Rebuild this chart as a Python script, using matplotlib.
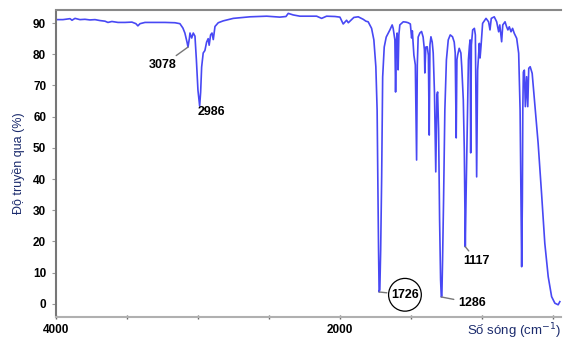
import matplotlib
matplotlib.use("Agg")
import matplotlib.pyplot as plt

plt.rcParams['font.family'] = ['Liberation Sans', 'DejaVu Sans']

# IR spectrum (wavenumber in cm-1, transmittance in %)
wavenumber = [4000, 3951, 3901, 3887, 3866, 3831, 3796, 3761, 3725, 3690,
              3655, 3634, 3606, 3563, 3514, 3465, 3437, 3423, 3408, 3373,
              3303, 3232, 3162, 3127, 3106, 3092, 3077, 3070, 3060, 3056,
              3044, 3033, 3021, 3011, 3000, 2988, 2981, 2974, 2963, 2951,
              2939, 2928, 2921, 2911, 2901, 2892, 2880, 2857, 2822, 2751,
              2634, 2516, 2423, 2380, 2364, 2329, 2282, 2211, 2164, 2129,
              2094, 2035, 2000, 1977, 1953, 1941, 1923, 1902, 1871, 1836,
              1817, 1801, 1777, 1761, 1747, 1738, 1733, 1728, 1724, 1719,
              1713, 1706, 1699, 1688, 1674, 1648, 1632, 1625, 1613, 1608,
              1602, 1597, 1590, 1585, 1578, 1554, 1535, 1519, 1504, 1495,
              1490, 1479, 1469, 1460, 1455, 1449, 1437, 1425, 1414, 1405,
              1402, 1395, 1385, 1377, 1371, 1366, 1359, 1350, 1343, 1334,
              1325, 1317, 1312, 1305, 1298, 1291, 1286, 1282, 1277, 1270,
              1261, 1250, 1237, 1223, 1207, 1195, 1188, 1181, 1176, 1171,
              1160, 1148, 1142, 1131, 1124, 1117, 1112, 1105, 1095, 1088,
              1083, 1079, 1074, 1065, 1053, 1046, 1037, 1030, 1018, 1013,
              1006, 995, 971, 953, 943, 934, 913, 896, 882, 874,
              861, 853, 837, 826, 817, 807, 795, 784, 772, 755,
              741, 731, 724, 720, 715, 712, 708, 701, 694, 685,
              677, 670, 660, 646, 630, 604, 580, 557, 533, 509,
              486, 463, 451]
transmittance = [91.1, 91.1, 91.4, 90.9, 91.5, 91.1, 91.2, 91.0, 91.1, 90.8,
                 90.6, 90.2, 90.5, 90.2, 90.2, 90.3, 89.8, 89.1, 89.8, 90.2,
                 90.2, 90.2, 90.1, 89.8, 88.4, 86.8, 83.9, 82.3, 85.2, 86.8,
                 85.2, 86.8, 85.8, 78.2, 68.5, 63.4, 67.9, 75.9, 80.4, 81.2,
                 83.9, 85.0, 82.9, 86.2, 86.8, 84.7, 88.9, 90.1, 90.7, 91.5,
                 92.0, 92.2, 91.9, 92.1, 93.1, 92.6, 92.2, 92.2, 92.2, 91.5,
                 92.2, 92.1, 91.9, 89.7, 90.9, 90.1, 90.9, 91.8, 92.0, 91.2,
                 90.6, 90.4, 88.3, 84.6, 76.0, 62.1, 39.7, 17.3, 3.8, 4.5,
                 17.3, 40.7, 72.7, 82.3, 85.5, 87.8, 89.4, 88.3, 84.6, 67.9,
                 84.6, 86.8, 75.0, 86.2, 89.4, 90.4, 90.3, 90.1, 89.7, 85.2,
                 87.5, 79.7, 76.6, 46.1, 76.6, 85.5, 86.8, 87.3, 85.5, 81.4,
                 74.0, 82.3, 82.4, 79.7, 54.1, 83.0, 85.6, 83.9, 80.4, 67.6,
                 42.3, 66.9, 67.9, 55.7, 26.9, 7.7, 2.2, 2.5, 14.1, 33.3,
                 62.1, 78.2, 84.6, 86.2, 85.6, 83.9, 80.4, 53.2, 78.2, 79.7,
                 81.9, 80.4, 76.0, 65.3, 49.3, 18.3, 33.3, 51.6, 78.2, 82.6,
                 84.6, 48.4, 83.0, 87.8, 88.3, 86.2, 40.7, 74.9, 83.5, 78.8,
                 82.7, 89.9, 91.5, 90.4, 87.8, 91.5, 92.0, 90.4, 87.2, 89.4,
                 84.0, 89.4, 90.4, 88.8, 87.8, 88.8, 87.2, 88.3, 86.7, 85.1,
                 80.3, 62.1, 30.1, 11.9, 33.3, 62.1, 74.3, 74.9, 63.2, 72.8,
                 63.2, 75.5, 76.0, 73.9, 65.3, 51.5, 35.5, 19.4, 8.7, 2.3,
                 0.2, -0.3, 0.7]

# peak labels: (text, peak position, label position)
peak_labels = ["3078", "2986", "1726", "1286", "1117"]
peak_xy = [(3070, 82.3), (2988, 63.4), (1724, 3.8), (1286, 2.2), (1117, 18.3)]
label_xy = [(3247, 76.5), (2908, 61.5), (1542, 2.9), (1071, 0.3), (1035, 13.8)]

xticks = [4000, 3500, 3000, 2500, 2000, 1500, 1000, 500]
xtick_labels = ["4000", "", "", "", "2000", "", "", ""]
yticks = [0, 10, 20, 30, 40, 50, 60, 70, 80, 90]

fig = plt.figure(figsize=(5.77, 3.43), dpi=100)
ax = fig.add_axes([0.097, 0.076, 0.875, 0.895])

ax.plot(wavenumber, transmittance, color='#4848f4', lw=1.2)

ax.set_xlim(4000, 444)
ax.set_ylim(-4.2, 94.2)

ax.set_xticks(xticks)
ax.set_xticklabels(xtick_labels, fontsize=8.5, fontweight='bold')
ax.set_yticks(yticks)
ax.set_yticklabels([str(v) for v in yticks], fontsize=8.5, fontweight='bold')
ax.tick_params(axis='x', direction='inout', length=3, width=1, color='#666666', pad=3.5)
ax.tick_params(axis='y', direction='out', length=3, width=0.8, color='#999999', pad=4)

ax.spines['right'].set_visible(False)
ax.spines['top'].set_color('#888888')
ax.spines['top'].set_linewidth(1.5)
ax.spines['bottom'].set_color('#b0b0b0')
ax.spines['bottom'].set_linewidth(1.5)
ax.spines['left'].set_color('#777777')
ax.spines['left'].set_linewidth(1.5)
ax.spines['left'].set_linestyle((0, (1, 1)))

ax.set_ylabel("Độ truyền qua (%)", fontsize=9, color='#1a2a6c', labelpad=6)
ax.text(1.0, -0.014, "Số sóng (cm$^{-1}$)", transform=ax.transAxes, ha='right', va='top',
        fontsize=9.5, color='#1a2a6c')

for text, xy, xytext in zip(peak_labels, peak_xy, label_xy):
    if text == "2986":
        ax.text(xytext[0], xytext[1], text, ha='center', va='center', fontsize=9, fontweight='bold')
        continue
    bbox = None
    if text == "1726":
        bbox = dict(boxstyle='circle,pad=0.2', fc='none', ec='black', lw=0.9)
    ax.annotate(text, xy=xy, xytext=xytext, ha='center', va='center',
                fontsize=9, fontweight='bold', bbox=bbox,
                arrowprops=dict(arrowstyle='-', color='#777777', lw=1, shrinkA=1, shrinkB=0))

fig.savefig("out.png", dpi=100)
